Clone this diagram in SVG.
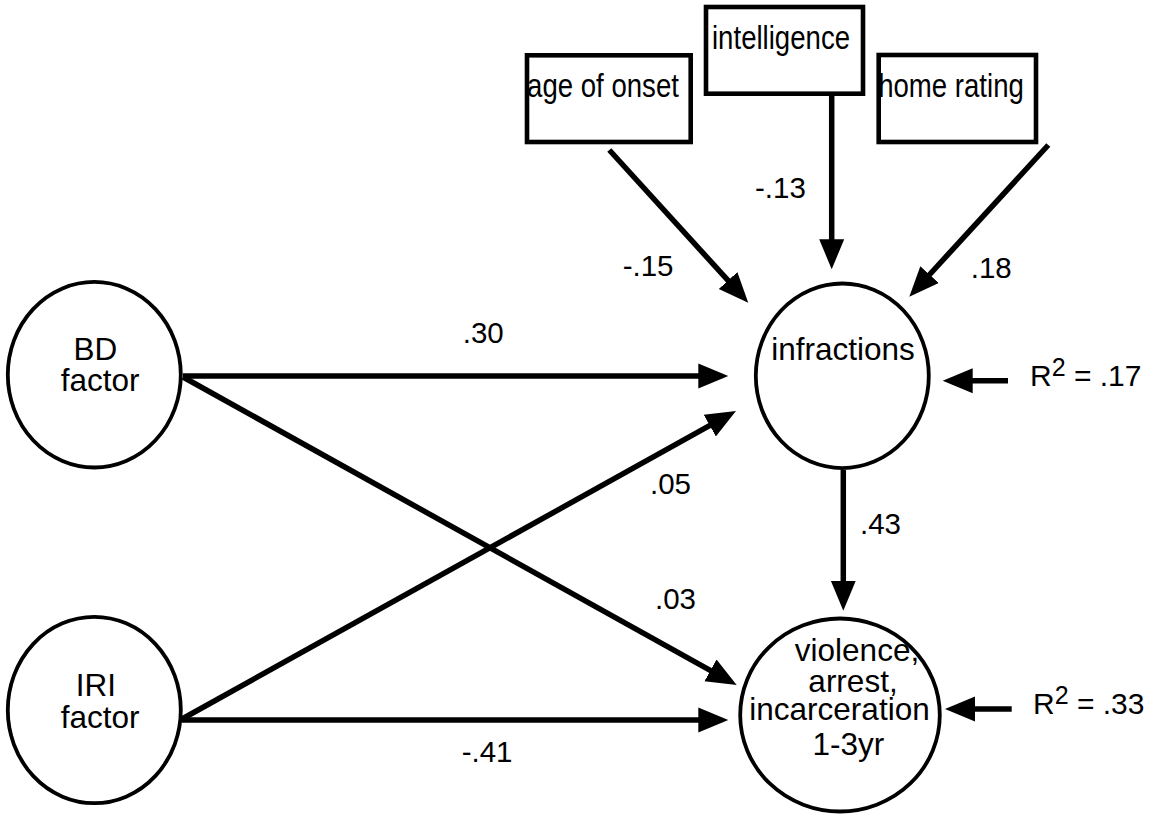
<svg xmlns="http://www.w3.org/2000/svg" width="1159" height="815" viewBox="0 0 1159 815">
<defs>
<style>
.node{fill:#fff;stroke:#000;stroke-width:3.8}
.box{fill:#fff;stroke:#000;stroke-width:4.6}
.edge{stroke:#000;stroke-width:5.5;fill:none;marker-end:url(#ah)}
text{font-family:"Liberation Sans",Arial,sans-serif;fill:#000}
.cl{font-size:31.5px;text-anchor:middle}
.bl{font-size:27.6px;text-anchor:middle}
.el{font-size:29.5px}
.r2{font-size:30px}
.sup{font-size:25px}
</style>
<marker id="ah" markerUnits="userSpaceOnUse" markerWidth="32" markerHeight="28" viewBox="0 -14 32 28" refX="10" refY="0" orient="auto">
<path d="M0,-12.5 L30,0 L0,12.5 Z" fill="#000"/>
</marker>
</defs>
<rect width="1159" height="815" fill="#fff"/>

<g id="connectors">
<line class="edge" x1="609.3" y1="150" x2="734.8" y2="287.9"/>
<line class="edge" x1="831.7" y1="96" x2="831.7" y2="249.3"/>
<line class="edge" x1="1048.3" y1="145" x2="922.8" y2="282"/>
<line class="edge" x1="183" y1="376" x2="708.3" y2="376"/>
<line class="edge" x1="183" y1="377" x2="719.2" y2="675.3"/>
<line class="edge" x1="182" y1="719" x2="718.5" y2="420.7"/>
<line class="edge" x1="182" y1="720" x2="708.3" y2="720"/>
<line class="edge" x1="843.3" y1="470" x2="843.3" y2="590.7"/>
<line class="edge" x1="1008" y1="380.7" x2="962.7" y2="380.7"/>
<line class="edge" x1="1011.7" y1="709" x2="965" y2="709"/>
<text class="el" x="622.7" y="276">-.15</text>
<text class="el" x="755" y="197.7">-.13</text>
<text class="el" x="970.7" y="277.7">.18</text>
<text class="el" x="462.7" y="342.7">.30</text>
<text class="el" x="650" y="494">.05</text>
<text class="el" x="655" y="609">.03</text>
<text class="el" x="860" y="534">.43</text>
<text class="el" x="461.7" y="761.7">-.41</text>
<text class="r2" x="1030" y="386">R<tspan class="sup" dy="-10">2</tspan><tspan dy="10"> = .17</tspan></text>
<text class="r2" x="1033" y="714">R<tspan class="sup" dy="-10">2</tspan><tspan dy="10"> = .33</tspan></text>
</g>

<g id="age-of-onset">
<rect class="box" x="527" y="55.3" width="163.7" height="86.7"/>
<text class="bl" transform="translate(603,97) scale(1,1.2)">age of onset</text>
</g>
<g id="intelligence">
<rect class="box" x="706" y="7" width="157" height="86.7"/>
<text class="bl" transform="translate(781,49.3) scale(1,1.2)">intelligence</text>
</g>
<g id="home-rating">
<rect class="box" x="878.7" y="55" width="157.3" height="87"/>
<text class="bl" transform="translate(951,96.7) scale(1,1.2)">home rating</text>
</g>

<g id="bd-factor">
<ellipse class="node" cx="94.3" cy="374.7" rx="86.5" ry="92.8"/>
<text class="cl" x="95.3" y="360">BD</text>
<text class="cl" x="100.2" y="390.7">factor</text>
</g>
<g id="iri-factor">
<ellipse class="node" cx="94.3" cy="710" rx="86.5" ry="93.2"/>
<text class="cl" x="96" y="696">IRI</text>
<text class="cl" x="100.2" y="727.7">factor</text>
</g>
<g id="infractions">
<ellipse class="node" cx="842.3" cy="375.8" rx="86.5" ry="92.3"/>
<text class="cl" x="843" y="360">infractions</text>
</g>
<g id="violence">
<ellipse class="node" cx="840" cy="715" rx="99.8" ry="96.5"/>
<text class="cl" x="857" y="661">violence,</text>
<text class="cl" x="853" y="691.7">arrest,</text>
<text class="cl" x="839.5" y="720">incarceration</text>
<text class="cl" x="848.3" y="755">1-3yr</text>
</g>
</svg>
